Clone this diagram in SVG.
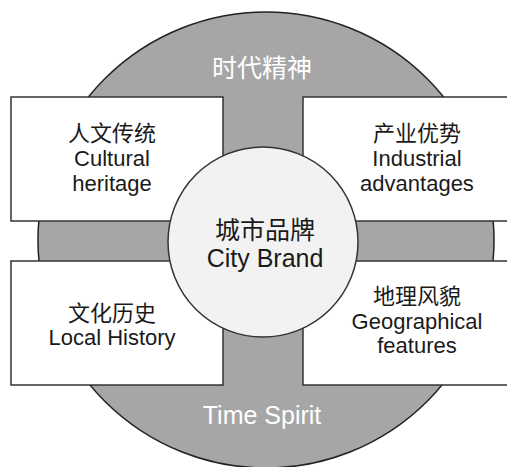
<svg xmlns="http://www.w3.org/2000/svg" width="507" height="467" viewBox="0 0 507 467">
<style>
.bg{fill:#a6a6a6;stroke:#222;stroke-width:1.5}
.box{fill:#fff;stroke:#333;stroke-width:1.5}
.hub{fill:#f2f2f2;stroke:#333;stroke-width:1.5}
text{font-family:"Liberation Sans","Noto Sans CJK SC",Arial,sans-serif;text-anchor:middle}
.t{font-size:22px;fill:#1a1a1a}
.c{font-size:25px;fill:#1a1a1a}
.w{font-size:25px;fill:#fff}
</style>
<g id="spirit">
<circle class="bg" cx="266" cy="240" r="228"/>
<text class="w" x="262" y="77">时代精神</text>
<text class="w" x="262" y="424">Time Spirit</text>
</g>
<g id="connectors"></g>
<g id="cultural">
<rect class="box" x="11" y="97" width="212" height="124"/>
<text class="t" x="112" y="141">人文传统</text>
<text class="t" x="112" y="166">Cultural</text>
<text class="t" x="112" y="191">heritage</text>
</g>
<g id="industrial">
<rect class="box" x="303" y="97" width="220" height="124"/>
<text class="t" x="417" y="141">产业优势</text>
<text class="t" x="417" y="166">Industrial</text>
<text class="t" x="417" y="191">advantages</text>
</g>
<g id="history">
<rect class="box" x="11" y="261" width="212" height="124"/>
<text class="t" x="112" y="321">文化历史</text>
<text class="t" x="112" y="345">Local History</text>
</g>
<g id="geo">
<rect class="box" x="303" y="261" width="220" height="124"/>
<text class="t" x="417" y="304">地理风貌</text>
<text class="t" x="417" y="329">Geographical</text>
<text class="t" x="417" y="353">features</text>
</g>
<g id="brand">
<circle class="hub" cx="263" cy="242" r="95"/>
<text class="c" x="265" y="239">城市品牌</text>
<text class="c" x="265" y="267">City Brand</text>
</g>
</svg>
